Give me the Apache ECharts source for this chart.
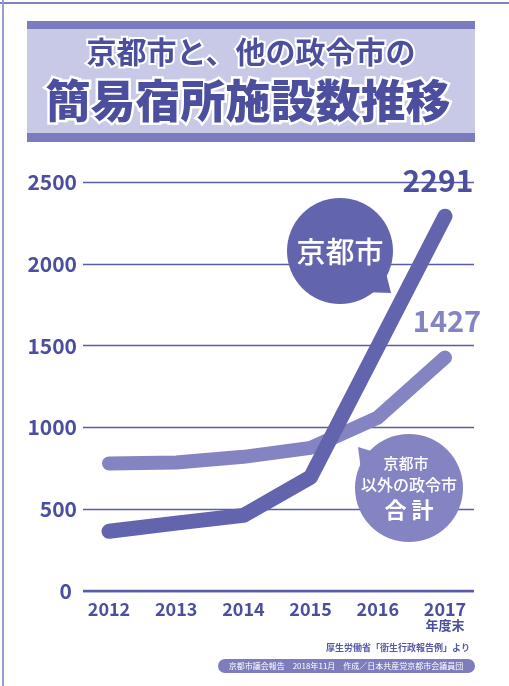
<!DOCTYPE html>
<html><head><meta charset="utf-8">
<script src="https://cdn.jsdelivr.net/npm/echarts@6/dist/echarts.min.js"></script>
<style>html,body{margin:0;padding:0;background:#fff}#c{width:509px;height:686px}</style>
</head><body><div id="c"></div>
<script>
const years = ['2012','2013','2014','2015','2016','2017'];
const lastYearSuffix = '年度末';
const kyoto = [365, 415, 462, 696, 1493, 2291];
const others = [780, 785, 820, 875, 1060, 1427];
const yTicks = {min: 0, max: 2500, interval: 500};
const title1 = '京都市と、他の政令市の';
const title2 = '簡易宿所施設数推移';
const bubble1 = '京都市';
const bubble2 = ['京都市', '以外の政令市', '合 計'];
const sourceNote = '厚生労働省「衛生行政報告例」より';
const credit = '京都市議会報告　2018年11月　作成／日本共産党京都市会議員団';

const FONT = '"Noto Sans CJK JP", "Noto Sans", sans-serif';
const DARK = '#4b4f9e';
const LINE_DARK = '#6264ad';
const LINE_LIGHT = '#8584c3';

const chart = echarts.init(document.getElementById('c'), null, {renderer: 'canvas'});
const lastIdx = years.length - 1;

chart.setOption({
  animation: false,
  backgroundColor: '#fff',
  grid: [
    {left: 83, right: 35, top: 182, bottom: 95},
    {left: 109, right: 64, top: 182, bottom: 95}
  ],
  xAxis: [
    {gridIndex: 0, type: 'value', show: false, min: 0, max: 1},
    {gridIndex: 1, type: 'category', boundaryGap: false, data: years,
     axisLine: {show: false}, axisTick: {show: false},
     axisLabel: {interval: 0, color: DARK, fontFamily: FONT, fontWeight: 'bold', fontSize: 18, margin: 9,
       formatter: v => v === years[lastIdx] ? v + '\n{s|' + lastYearSuffix + '}' : v,
       rich: {s: {fontSize: 13, fontWeight: 'bold', color: DARK, fontFamily: FONT, lineHeight: 15}}}}
  ],
  yAxis: [
    {gridIndex: 0, type: 'value', min: yTicks.min, max: yTicks.max, interval: yTicks.interval,
     axisLine: {show: true, lineStyle: {color: 'transparent'}}, axisTick: {show: false},
     axisLabel: {color: DARK, fontFamily: FONT, fontWeight: 'bold', fontSize: 21, margin: 6,
       formatter: v => v === 0 ? '{z|0}' : String(v),
       rich: {z: {color: DARK, fontFamily: FONT, fontWeight: 'bold', fontSize: 21, padding: [0, 5, 0, 0]}}},
     splitLine: {lineStyle: {color: '#5a5ca8', width: 1.3}}},
    {gridIndex: 1, type: 'value', min: yTicks.min, max: yTicks.max, interval: yTicks.interval, show: false}
  ],
  series: [
    {type: 'line', xAxisIndex: 1, yAxisIndex: 1, data: others, z: 3,
     symbol: 'circle', symbolSize: 1, itemStyle: {color: 'rgba(0,0,0,0)'},
     lineStyle: {color: LINE_LIGHT, width: 14, cap: 'round', join: 'round'},
     label: {show: true, position: 'top', distance: 22, offset: [2, 0], color: LINE_LIGHT,
       fontFamily: FONT, fontWeight: 'bold', fontSize: 29,
       formatter: p => p.dataIndex === lastIdx ? String(p.value) : ''}},
    {type: 'line', xAxisIndex: 1, yAxisIndex: 1, data: kyoto, z: 4,
     symbol: 'circle', symbolSize: 1, itemStyle: {color: 'rgba(0,0,0,0)'},
     lineStyle: {color: LINE_DARK, width: 15, cap: 'round', join: 'round'},
     label: {show: true, position: 'top', distance: 20, offset: [-7, 0], color: DARK,
       fontFamily: FONT, fontWeight: 'bold', fontSize: 30,
       formatter: p => p.dataIndex === lastIdx ? String(p.value) : ''}}
  ],
  graphic: [
    {type: 'line', shape: {x1: 0, y1: 3, x2: 509, y2: 3}, style: {stroke: '#5558a8', lineWidth: 1.5}, z: 1},
    {type: 'line', shape: {x1: 3, y1: 0, x2: 3, y2: 686}, style: {stroke: '#9a9bd0', lineWidth: 2}, z: 1},
    {type: 'line', shape: {x1: 83, y1: 591, x2: 474, y2: 591}, style: {stroke: '#5a5ca8', lineWidth: 2.5}, z: 1},
    {type: 'rect', shape: {x: 27, y: 21, width: 448, height: 121}, style: {fill: '#c8c9e7'}, z: 1},
    {type: 'rect', shape: {x: 27, y: 21, width: 448, height: 8}, style: {fill: '#7a7cbd'}, z: 1},
    {type: 'rect', shape: {x: 27, y: 133, width: 448, height: 9}, style: {fill: '#7a7cbd'}, z: 1},
    {type: 'text', x: 251, y: 52, z: 2, style: {text: title1, fill: DARK, stroke: '#fff', lineWidth: 4,
      font: 'bold 30px ' + FONT, textAlign: 'center', textVerticalAlign: 'middle'}},
    {type: 'text', x: 248, y: 101, z: 2, style: {text: title2, fill: DARK, stroke: '#fff', lineWidth: 5,
      font: '900 45px ' + FONT, textAlign: 'center', textVerticalAlign: 'middle'}},
    // bubble 1
    {type: 'circle', shape: {cx: 340, cy: 251, r: 53}, style: {fill: LINE_DARK}, z: 50},
    {type: 'polygon', shape: {points: [[362, 292], [391, 293], [384, 265]]}, style: {fill: LINE_DARK}, z: 50},
    {type: 'text', x: 340, y: 252, z: 51, style: {text: bubble1, fill: '#fff', font: '500 29px ' + FONT,
      textAlign: 'center', textVerticalAlign: 'middle'}},
    // bubble 2
    {type: 'circle', shape: {cx: 409, cy: 488, r: 54}, style: {fill: LINE_LIGHT}, z: 50},
    {type: 'polygon', shape: {points: [[362, 478], [358, 447], [388, 456]]}, style: {fill: LINE_LIGHT}, z: 50},
    {type: 'text', x: 406, y: 463, z: 51, style: {text: bubble2[0], fill: '#fff', font: '500 15px ' + FONT,
      textAlign: 'center', textVerticalAlign: 'middle'}},
    {type: 'text', x: 409, y: 485, z: 51, style: {text: bubble2[1], fill: '#fff', font: '500 16px ' + FONT,
      textAlign: 'center', textVerticalAlign: 'middle'}},
    {type: 'text', x: 409, y: 510, z: 51, style: {text: bubble2[2], fill: '#fff', font: 'bold 22px ' + FONT,
      textAlign: 'center', textVerticalAlign: 'middle'}},
    // source
    {type: 'text', x: 470, y: 648, z: 2, style: {text: sourceNote, fill: '#5558a5', font: 'bold 9px ' + FONT,
      textAlign: 'right', textVerticalAlign: 'middle'}},
    {type: 'rect', shape: {x: 218, y: 659, width: 257, height: 14, r: 7}, style: {fill: '#7d7dbd'}, z: 1},
    {type: 'text', x: 346, y: 666, z: 2, style: {text: credit, fill: '#fff', font: '8px ' + FONT,
      textAlign: 'center', textVerticalAlign: 'middle'}}
  ]
});
</script></body></html>
